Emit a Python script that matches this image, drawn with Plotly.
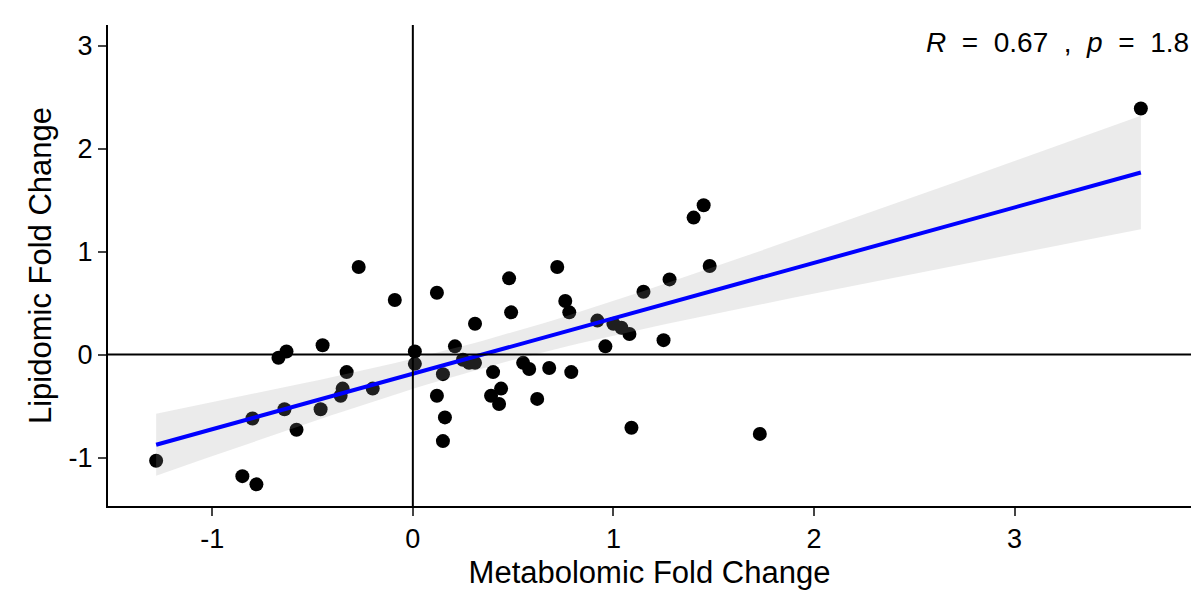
import numpy as np
import plotly.graph_objects as go

metab = [-1.28, -0.85, -0.78, -0.80, -0.67, -0.63, -0.64, -0.58, -0.45, -0.46, -0.33, -0.36, -0.35, -0.20,
         -0.27, -0.09, 0.01, 0.01, 0.12, 0.12, 0.15, 0.16, 0.15, 0.21, 0.25, 0.28, 0.31, 0.31, 0.40, 0.39,
         0.44, 0.43, 0.48, 0.49, 0.55, 0.58, 0.62, 0.68, 0.72, 0.76, 0.78, 0.79, 0.92, 0.96, 1.00, 1.04,
         1.08, 1.09, 1.15, 1.25, 1.28, 1.40, 1.45, 1.48, 1.73, 3.63]
lipid = [-1.03, -1.18, -1.26, -0.62, -0.03, 0.03, -0.53, -0.73, 0.09, -0.53, -0.17, -0.40, -0.33, -0.33,
         0.85, 0.53, 0.03, -0.09, 0.60, -0.40, -0.19, -0.61, -0.84, 0.08, -0.05, -0.08, -0.08, 0.30, -0.17, -0.40,
         -0.33, -0.48, 0.74, 0.41, -0.08, -0.14, -0.43, -0.13, 0.85, 0.52, 0.41, -0.17, 0.33, 0.08, 0.30, 0.26,
         0.20, -0.71, 0.61, 0.14, 0.73, 1.33, 1.45, 0.86, -0.77, 2.39]
ticks = [-1, 0, 1, 2, 3]
tick_labels = ['-1', '0', '1', '2', '3']

x = np.array(metab)
y = np.array(lipid)
n = len(x)
b, a = np.polyfit(x, y, 1)
xs = np.linspace(x.min(), x.max(), 80)
ys = a + b * xs
resid = y - (a + b * x)
s = np.sqrt(np.sum(resid ** 2) / (n - 2))
se = s * np.sqrt(1 / n + (xs - x.mean()) ** 2 / np.sum((x - x.mean()) ** 2))
t = 2.005
lo, hi = ys - t * se, ys + t * se

fig = go.Figure()
fig.add_trace(go.Scatter(x=x, y=y, mode='markers', marker=dict(color='black', size=14)))
fig.add_trace(go.Scatter(x=np.concatenate([xs, xs[::-1]]), y=np.concatenate([hi, lo[::-1]]),
                         fill='toself', fillcolor='rgba(153,153,153,0.2)', line=dict(width=0), mode='lines'))
fig.add_trace(go.Scatter(x=xs, y=ys, mode='lines', line=dict(color='blue', width=4)))

axis_font = dict(family='Liberation Sans, Arial', size=27, color='black')
fig.update_layout(
    width=1200, height=600, showlegend=False, plot_bgcolor='white', paper_bgcolor='white',
    margin=dict(l=100, r=17, t=17, b=102),
    font=dict(family='Liberation Sans, Arial', color='black'),
    shapes=[
        dict(type='line', xref='x', yref='paper', x0=0, x1=0, y0=0, y1=1, line=dict(color='black', width=2)),
        dict(type='line', xref='paper', yref='y', x0=0, x1=1, y0=0, y1=0, line=dict(color='black', width=2)),
    ],
    annotations=[dict(x=1, y=1, xref='paper', yref='paper', xanchor='right', yanchor='top', showarrow=False,
                      text='<i>R</i>  =  0.67  ,  <i>p</i>  =  1.8', font=dict(size=28, color='black'))],
)
fig.update_xaxes(range=[-1.52, 3.88], tickvals=ticks, ticktext=tick_labels, showgrid=False, zeroline=False,
                 showline=True, linecolor='black', linewidth=2, ticks='outside', ticklen=8, tickwidth=2,
                 automargin=False, tickfont=axis_font,
                 title=dict(text='Metabolomic Fold Change', font=dict(size=31), standoff=8))
fig.update_yaxes(range=[-1.47, 3.2], tickvals=ticks, ticktext=tick_labels, showgrid=False, zeroline=False,
                 showline=True, linecolor='black', linewidth=2, ticks='outside', ticklen=8, tickwidth=2,
                 automargin=False, tickfont=axis_font,
                 title=dict(text='Lipidomic Fold Change', font=dict(size=31), standoff=8))

fig.write_html("out.html")
